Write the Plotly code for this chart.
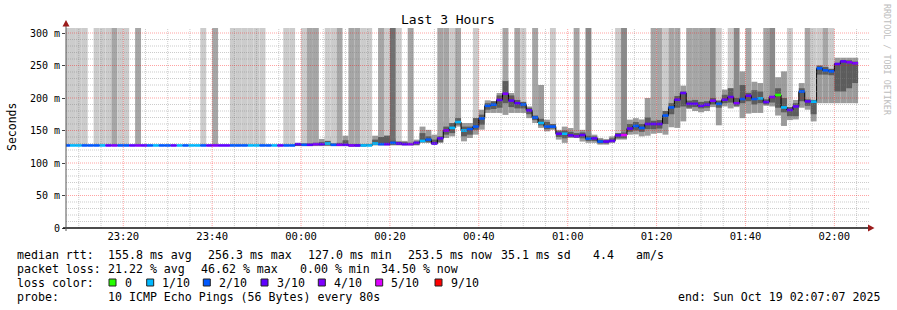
import plotly.graph_objects as go
from datetime import datetime, timedelta

# ---------------- data ----------------
STEP_SEC = 80
FIRST_STEP = "2025-10-18 23:06:40"
RANGE_START = "2025-10-18 23:07:07"
RANGE_END = "2025-10-19 02:07:07"
Y_MAX = 307.7

MEDIAN_MS = [
    127, 127, 127, 127, 127, 127, 127, 127, 127, 127,
    127, 127, 127, 127, 127, 127, 127, 127, 127, 127,
    127, 127, 127, 127, 127, 127, 127, 127, 127, 127,
    127, 127, 127, 127, 127, 127, 127, 127, 127,
    129, 128, 128, 129, 129, 130, 128, 128, 128, 127, 127,
    127, 127, 130, 129, 129, 131, 130, 129, 129, 131,
    134, 136, 130, 138, 150, 154, 163, 150, 152, 156,
    168.6, 188, 189.7, 197, 206.6, 196, 192, 190, 181, 170,
    161.5, 156, 156, 145, 145, 142.5, 141, 143, 137.4, 138,
    133, 133, 134, 142.5, 143, 153, 157, 154, 160, 160,
    160, 173, 185.5, 197.4, 207.7, 191, 191, 188, 189.7, 195.8,
    191, 197.4, 201.5, 192, 198.5, 203.5, 198.5, 199.5, 193.8, 201.5,
    204.6, 185.5, 181.5, 187, 210, 194.8, 194.3, 245.6, 242.5, 241,
    252.3, 256.3, 255, 253.5,
]

LOSS = [
    2, 1, 1, 2, 2, 2, 1, 3, 4, 2,
    2, 3, 4, 3, 2, 1, 2, 2, 3, 1,
    2, 1, 1, 2, 3, 4, 3, 3, 2, 2,
    2, 1, 1, 2, 2, 1, 3, 2, 2, 3,
    2, 3, 4, 3, 1, 2, 4, 3, 4, 3,
    1, 1, 1, 2, 3, 2, 3, 3, 4, 3,
    1, 2, 3, 3, 4, 1, 1, 1, 2, 2,
    2, 2, 2, 3, 4, 3, 3, 2, 3, 2,
    1, 2, 2, 3, 1, 3, 4, 3, 2, 3,
    2, 3, 3, 3, 5, 3, 2, 2, 3, 3,
    3, 2, 2, 3, 3, 3, 3, 3, 3, 4,
    2, 3, 3, 4, 2, 3, 2, 1, 3, 4,
    0, 1, 3, 3, 2, 3, 1, 2, 2, 2,
    3, 3, 4, 4,
]

# shade of the smoke that runs up to the top (lost pings): 0 none .. 4 darkest
TALL = [
    1, 1, 1, 1, 0, 1, 1, 1, 2, 1,
    1, 0, 2, 0, 0, 0, 0, 0, 0, 0,
    0, 0, 0, 1, 0, 2, 0, 0, 1, 1,
    1, 1, 1, 1, 0, 0, 0, 1, 1, 0,
    1, 2, 2, 0, 1, 1, 2, 0, 2, 2,
    1, 1, 0, 2, 1, 4, 1, 0, 2, 0,
    0, 0, 0, 2, 2, 1, 2, 0, 0, 1,
    0, 0, 0, 0, 2, 0, 2, 1, 0, 2,
    0, 0, 1, 0, 0, 0, 2, 0, 3, 0,
    0, 0, 0, 1, 3, 0, 0, 0, 0, 2,
    2, 1, 2, 2, 0, 2, 2, 2, 2, 3,
    1, 0, 1, 3, 0, 2, 0, 0, 2, 3,
    0, 0, 1, 0, 0, 2, 1, 1, 2, 1,
    0, 0, 0, 0,
]

OUT_LO = [
    127, 127, 127, 127, 127, 127, 127, 127, 127, 127,
    127, 127, 127, 127, 127, 127, 127, 127, 127, 127,
    127, 127, 127, 127, 127, 127, 127, 127, 127, 127,
    127, 127, 127, 127, 127, 127, 127, 127, 127,
    126, 126, 126, 126, 126, 126, 126, 126, 126, 126, 126,
    126, 126, 127, 127, 127, 127, 127, 127, 127, 127,
    130.8, 130.8, 128.2, 131, 138.5, 141, 156, 133.3, 138.5, 143.6,
    151.3, 177, 177, 177, 174, 177, 177, 177, 169, 161.5,
    154, 148.7, 151, 136, 131, 138.5, 138.5, 133, 131, 131,
    128.2, 128.2, 131, 136, 136, 143.6, 144, 141, 142, 145,
    146, 143.6, 155, 154, 164, 183, 180, 178, 180, 186,
    158, 187, 184, 186, 169, 176, 177, 177, 188, 187,
    173, 157, 166, 167, 185, 182, 164, 192, 192, 192,
    192, 192, 192, 192,
]

OUT_HI = [
    127, 127, 127, 127, 127, 127, 127, 127, 127, 127,
    127, 127, 127, 127, 127, 127, 127, 127, 127, 127,
    127, 127, 127, 127, 127, 127, 127, 127, 127, 127,
    127, 129, 129, 127, 127, 127, 127, 127, 127,
    131, 131, 132, 133, 137, 140, 131, 133, 142, 129, 129,
    129, 130, 142, 146, 148, 138, 135, 134, 133, 136,
    156, 151, 143.6, 146, 164, 169, 174.4, 161.5, 161.5, 182,
    182, 196.4, 194.9, 207.7, 228, 207.7, 200, 197.4, 187, 177,
    220, 166.7, 164, 151, 156, 153.8, 151, 151, 146, 143.6,
    138.5, 137, 141, 151, 151, 166.7, 169, 167, 200, 170,
    170, 185, 195, 207, 219, 197, 200, 198, 198, 204,
    200, 213, 228, 205, 241, 210, 225, 223, 200, 205,
    232, 241, 190, 197, 223, 200, 200, 250, 248, 245,
    262, 262, 262, 262,
]

IN_LO = [
    127, 127, 127, 127, 127, 127, 127, 127, 127, 127,
    127, 127, 127, 127, 127, 127, 127, 127, 127, 127,
    127, 127, 127, 127, 127, 127, 127, 127, 127, 127,
    127, 127, 127, 127, 127, 127, 127, 127, 127,
    127, 127, 127, 127, 127, 127, 127, 127, 127, 127, 127,
    127, 127, 128, 128, 128, 128, 128, 128, 128, 128,
    133, 132, 130, 132, 143.6, 146, 159, 141, 143.6, 151,
    159, 182, 183, 185, 192, 186, 184, 184, 175, 166,
    158, 152, 153, 140, 138, 140, 139, 138, 134, 134,
    130, 130, 132, 138, 138, 148, 150, 148, 152, 152,
    153, 160, 175, 185, 187, 185, 186, 184, 185, 190,
    185, 192, 193, 188, 192, 195, 190, 192, 190, 193,
    185, 178, 172, 172, 195, 188, 175, 236, 236, 235,
    210, 210, 215, 223,
]

IN_HI = [
    127, 127, 127, 127, 127, 127, 127, 127, 127, 127,
    127, 127, 127, 127, 127, 127, 127, 127, 127, 127,
    127, 127, 127, 127, 127, 127, 127, 127, 127, 127,
    127, 127, 127, 127, 127, 127, 127, 127, 127,
    130, 130, 130, 131, 132, 134, 130, 131, 135, 128, 128,
    128, 129, 136, 140, 142, 135, 133, 132, 131, 133,
    146, 141, 136, 141, 156, 161.5, 169, 156, 156, 169,
    174.4, 192, 195, 204, 226, 204, 197, 194, 185, 173,
    168, 163, 160, 149, 150, 148, 146, 147, 142, 141,
    136, 135, 138, 146, 147, 160, 163, 160, 170, 165,
    166, 180, 192, 203, 210, 196, 197, 194, 195, 200,
    196, 205, 215, 200, 220, 208, 212, 210, 198, 203,
    215, 200, 186, 192, 215, 198, 197, 250, 248, 245,
    254, 258, 258, 256,
]

Y_TICKS = [0, 50, 100, 150, 200, 250, 300]
Y_TICK_TEXT = ["0", "50 m", "100 m", "150 m", "200 m", "250 m", "300 m"]

LOSS_LEVELS = [0, 1, 2, 3, 4, 5, 9]
LOSS_LABELS = ["0", "1/10", "2/10", "3/10", "4/10", "5/10", "9/10"]
LOSS_COLORS = ["#26ff00", "#00b8ff", "#0059ff", "#5e00ff", "#7e00ff", "#dd00ff", "#ff0000"]

TITLE = "Last 3 Hours"
Y_TITLE = "Seconds"
RRD_CREDIT = "RRDTOOL / TOBI OETIKER"
LINE1 = [("median rtt:", 16), ("155.8 ms avg", 107.3), ("256.3 ms max", 207.3),
         ("127.0 ms min", 307.3), ("253.5 ms now", 407.3), ("35.1 ms sd", 500),
         ("4.4", 591.7), ("am/s", 635)]
LINE2 = [("packet loss:", 16), ("21.22 % avg", 107.3), ("46.62 % max", 200),
         ("0.00 % min", 299.3), ("34.50 % now", 380)]
LOSS_BOX_X = [109, 146.7, 203.3, 261, 318.3, 375.7, 435]
PROBE_LABEL = "probe:"
PROBE_TEXT = "10 ICMP Echo Pings (56 Bytes) every 80s"
END_TEXT = "end: Sun Oct 19 02:07:07 2025"

# ---------------- styles ----------------
W, H = 897, 310
L, R, T, B = 66, 866, 28, 228          # plot area in pixels
MONO = "DejaVu Sans Mono"
TALL_SHADES = {1: "#cccccc", 2: "#a6a6a6", 3: "#8a8a8a", 4: "#707070"}
OUTER_C = "#9c9c9c"
INNER_C = "#5c5c5c"


def px(x):
    return (x - L) / (R - L)


def py(y):
    return (B - y) / (B - T)


fmt = "%Y-%m-%d %H:%M:%S"
t0 = datetime.strptime(FIRST_STEP, fmt)
n = len(MEDIAN_MS)
starts = [t0 + timedelta(seconds=STEP_SEC * k) for k in range(n)]
ends = [s + timedelta(seconds=STEP_SEC) for s in starts]
centers = [s + timedelta(seconds=STEP_SEC / 2) for s in starts]

fig = go.Figure()


def band(lo, hi, colors):
    fig.add_trace(go.Bar(
        x=centers, base=lo, y=[h - l for l, h in zip(lo, hi)],
        width=STEP_SEC * 1000, marker=dict(color=colors, line=dict(width=0)),
        hoverinfo="skip", showlegend=False))


band(OUT_LO, OUT_HI, OUTER_C)
band(IN_HI, [Y_MAX if t else b for t, b in zip(TALL, IN_HI)],
     [TALL_SHADES.get(t, "#ffffff") for t in TALL])
band(IN_LO, IN_HI, INNER_C)

# median: black connecting step line + loss coloured segments
fig.add_trace(go.Scatter(
    x=starts + [ends[-1]], y=MEDIAN_MS + [MEDIAN_MS[-1]], mode="lines",
    line=dict(color="#000000", width=1, shape="hv"), hoverinfo="skip", showlegend=False))
for lvl, col in zip(LOSS_LEVELS, LOSS_COLORS):
    xs, ys = [], []
    for s, e, m, l in zip(starts, ends, MEDIAN_MS, LOSS):
        if l == lvl:
            xs += [s, e, None]
            ys += [m, m, None]
    if xs:
        fig.add_trace(go.Scatter(x=xs, y=ys, mode="lines",
                                 line=dict(color=col, width=2.6),
                                 hoverinfo="skip", showlegend=False))

shapes = []
# grid (drawn above the graph, like rrdtool)
re_ = datetime.strptime(RANGE_END, fmt)
t = datetime(2025, 10, 18, 23, 10)
while t < re_:
    major = t.minute % 20 == 0
    shapes.append(dict(type="line", xref="x", yref="paper", x0=t, x1=t, y0=0, y1=1,
                       layer="above",
                       line=dict(color="rgba(255,0,0,0.36)" if major else "rgba(128,128,128,0.4)",
                                 width=1, dash="1px,1px")))
    t += timedelta(minutes=5)
for v in range(10, 301, 10):
    major = v % 50 == 0
    shapes.append(dict(type="line", xref="paper", yref="y", x0=0, x1=px(869), y0=v, y1=v,
                       layer="above",
                       line=dict(color="rgba(255,0,0,0.36)" if major else "rgba(128,128,128,0.4)",
                                 width=1, dash="1px,1px")))
# axes lines + arrows
shapes.append(dict(type="line", xref="paper", yref="paper", x0=px(63), x1=px(869),
                   y0=py(228), y1=py(228), layer="above", line=dict(color="#111111", width=1.5)))
shapes.append(dict(type="line", xref="paper", yref="paper", x0=px(66), x1=px(66),
                   y0=py(231), y1=py(24), layer="above", line=dict(color="#555555", width=1)))
shapes.append(dict(type="path", xref="paper", yref="paper", layer="above",
                   path=f"M {px(868)},{py(224.5)} L {px(874.5)},{py(228)} L {px(868)},{py(231.5)} Z",
                   fillcolor="#9b1c1c", line=dict(width=0)))
shapes.append(dict(type="path", xref="paper", yref="paper", layer="above",
                   path=f"M {px(62.5)},{py(26.5)} L {px(66)},{py(20)} L {px(69.5)},{py(26.5)} Z",
                   fillcolor="#9b1c1c", line=dict(width=0)))
# loss colour legend boxes
for bx, col in zip(LOSS_BOX_X, LOSS_COLORS):
    shapes.append(dict(type="rect", xref="paper", yref="paper",
                       x0=px(bx), x1=px(bx + 7), y0=py(286), y1=py(279),
                       fillcolor=col, line=dict(color="#222222", width=1), layer="above"))

ann = []


def text(s, x, y, size=11.6, anchor="left", color="#000000", angle=0, family=MONO):
    ann.append(dict(text=s, x=px(x), y=py(y), xref="paper", yref="paper",
                    xanchor=anchor, yanchor="middle", showarrow=False, textangle=angle,
                    borderpad=0, font=dict(family=family, size=size, color=color)))


text(TITLE, 448, 20, size=13, anchor="center")
text(Y_TITLE, 12, 127, size=11.5, anchor="center", angle=-90)
text(RRD_CREDIT, 887, 60, size=8.4, anchor="center", angle=90, color="#bdbdbd")
for s, x in LINE1:
    text(s, x, 254.5)
for s, x in LINE2:
    text(s, x, 268.5)
text("loss color:", 16, 282.5)
for bx, lab in zip(LOSS_BOX_X, LOSS_LABELS):
    text(lab, bx + 14.5, 282.5)
text(PROBE_LABEL, 16, 296.5)
text(PROBE_TEXT, 107.3, 296.5)
text(END_TEXT, 881, 296.5, anchor="right")

fig.update_layout(
    width=W, height=H, margin=dict(l=L, r=W - R, t=T, b=H - B),
    paper_bgcolor="#ffffff", plot_bgcolor="#ffffff",
    barmode="overlay", showlegend=False, hovermode=False,
    shapes=shapes, annotations=ann,
    xaxis=dict(type="date", range=[RANGE_START, RANGE_END],
               tick0="2025-10-18 23:20:00", dtick=20 * 60 * 1000, tickformat="%H:%M",
               showgrid=False, zeroline=False, showline=False,
               ticks="", ticklen=0,
               tickfont=dict(family=MONO, size=10.5, color="#000000")),
    yaxis=dict(range=[0, Y_MAX], tickvals=Y_TICKS, ticktext=Y_TICK_TEXT,
               showgrid=False, zeroline=False, showline=False,
               ticks="outside", ticklen=3, tickcolor="#444444",
               tickfont=dict(family=MONO, size=10, color="#000000")),
)

fig.write_html("out.html")
